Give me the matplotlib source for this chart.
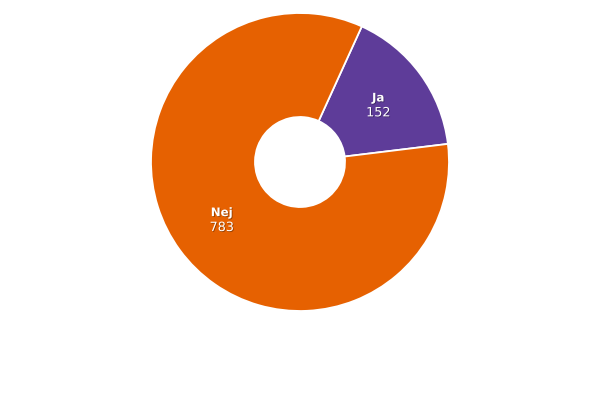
import numpy as np
import matplotlib.pyplot as plt
import matplotlib.patheffects as pe

labels = ["Ja", "Nej"]
values = [152, 783]
colors = ["#5e3c99", "#e66101"]

fig = plt.figure(figsize=(6, 4), dpi=100)
# pie centred at (300, 162) px, outer radius 148 px
ax = fig.add_axes([151 / 600, (400 - 162 - 149) / 400, 298 / 600, 298 / 400])

outer = 1.0
inner = 45 / 149
wedges, _ = ax.pie(
    values,
    colors=colors,
    startangle=65.5,
    counterclock=False,
    radius=outer,
    wedgeprops=dict(width=outer - inner, edgecolor="white", linewidth=1.3),
)

shadow = [pe.withSimplePatchShadow(offset=(0.6, -0.6), shadow_rgbFace="black", alpha=0.35)]
mid = (outer + inner) / 2
for w, lab, val in zip(wedges, labels, values):
    ang = np.deg2rad((w.theta1 + w.theta2) / 2)
    x, y = mid * np.cos(ang), mid * np.sin(ang)
    ax.text(x, y + 0.045, lab, ha="center", va="center", color="white",
            fontsize=8.5, fontweight="bold", path_effects=shadow)
    ax.text(x, y - 0.055, str(val), ha="center", va="center", color="white",
            fontsize=9.2, path_effects=shadow)

ax.set_xlim(-1, 1)
ax.set_ylim(-1, 1)
ax.set_aspect("equal")
ax.axis("off")

fig.savefig("out.png", dpi=100)
